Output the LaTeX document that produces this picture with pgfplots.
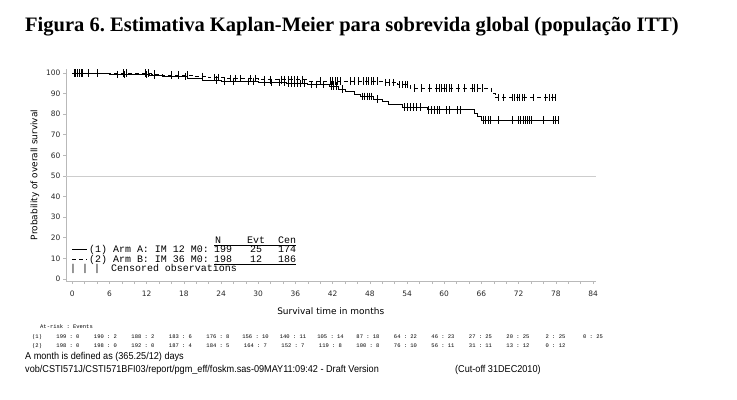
\documentclass[border=0pt]{standalone}
\usepackage{fontspec}
\usepackage{pgfplots}
\usepackage{graphicx}
\pgfplotsset{compat=1.18}
\setmainfont{Liberation Sans}
\newfontfamily\titlefont{Liberation Serif}
\newfontfamily\axisfont{DejaVu Sans}
\newfontfamily\legfont{Liberation Mono}
\definecolor{axgray}{RGB}{185,185,185}
\definecolor{refgray}{RGB}{205,205,205}
\frenchspacing
\begin{document}
\begin{tikzpicture}[x=1bp,y=1bp]
\useasboundingbox (0,0) rectangle (737,-399);
\node[anchor=base west, inner sep=0, font=\titlefont\bfseries\fontsize{20.6}{24}\selectfont] at (25,-31) {Figura 6. Estimativa Kaplan-Meier para sobrevida global (população ITT)};

\begin{axis}[
  at={(66bp,-281bp)}, anchor=south west, scale only axis,
  width=529.5bp, height=212.2bp,
  xmin=-1, xmax=84.4, ymin=-1, ymax=102,
  axis x line*=bottom, axis y line*=left,
  axis line style={axgray, line width=0.8pt, -},
  xtick={0,6,12,18,24,30,36,42,48,54,60,66,72,78,84},
  xticklabels={0,6,12,18,24,30,36,42,48,54,60,66,72,78,84},
  minor xtick={2,4,8,10,14,16,20,22,26,28,32,34,38,40,44,46,50,52,56,58,62,64,68,70,74,76,80,82},
  ytick={0,10,20,30,40,50,60,70,80,90,100},
  yticklabels={0,10,20,30,40,50,60,70,80,90,100},
  tick align=outside, major tick length=3bp, minor tick length=3bp,
  tick style={axgray, line width=0.6pt},
  tick label style={font=\axisfont\fontsize{7.5}{9}\selectfont, black!85},
  yticklabel style={xshift=1bp},
  xticklabel style={yshift=-3bp, anchor=north, text height=6bp, text depth=0pt},
  xlabel={Survival time in months},
  ylabel={Probability of overall survival},
  label style={font=\axisfont\fontsize{9}{11}\selectfont},
  xlabel style={at={(rel axis cs:0.5,-0.1414)}, anchor=center},
  ylabel style={at={(rel axis cs:-0.0585,0.5)}, anchor=center},
  clip=false,
]
\addplot[refgray, line width=0.8pt, forget plot] coordinates {(-1,50) (84.4,50)};
% Arm A (solid)
\addplot[black, line width=0.7pt, const plot mark left] coordinates {
(0,100)(6,99.2)(12.5,98.7)(14.5,98.2)(18.5,97.4)(21,96.6)(24,95.9)(30,95.4)(34.5,94.9)(38,94.3)(41.5,93.6)(43,92.2)(44,91.1)(45.5,89.8)(46.5,88.6)(48.5,87.3)(50,86.0)(51,84.9)(53.3,83.4)(57.2,82.1)(64.8,80.6)(65.4,79.0)(66,77.2)(78.4,77.2)};
% Arm B (dashed)
\addplot[black, line width=0.7pt, dash pattern=on 4bp off 3bp, const plot mark left] coordinates {
(0,100)(12.8,99.4)(14.5,98.9)(19.5,98.3)(22,97.7)(25,97.2)(30,96.7)(38,96.0)(50,95.3)(52.5,94.3)(54.5,92.6)(67.6,90.3)(68.2,88.0)(78.2,88.0)};
% censored A
\addplot[only marks, mark=|, mark size=3.8bp, mark options={line width=0.9pt, black}] coordinates {
(0.3,100)(0.6,100)(0.9,100)(1.2,100)(1.5,100)(2.6,100)(4.0,100)
(7.3,99.2)(8.5,99.2)(11.9,99.2)(13.2,98.7)(18.2,98.2)(23.2,96.6)
(24.6,95.9)(26,95.9)(28.4,95.9)(29.3,95.9)
(31,95.4)(32.2,95.4)(33.4,95.4)(34.2,95.4)
(34.8,94.9)(35.3,94.9)(35.8,94.9)(36.3,94.9)(36.8,94.9)(37.4,94.9)
(38.6,94.3)(39.4,94.3)(40.5,94.3)(41.8,93.6)(42.2,93.6)(42.6,93.6)(43.6,92.2)
(46.8,88.6)(47.2,88.6)(47.6,88.6)(48,88.6)(48.3,88.6)(49.3,87.3)
(53.6,83.4)(54,83.4)(54.5,83.4)(55,83.4)(55.5,83.4)(56.2,83.4)
(57.5,82.1)(58,82.1)(58.4,82.1)(58.9,82.1)(59.3,82.1)(60.4,82.1)(60.8,82.1)(62.2,82.1)(62.6,82.1)
(66.3,77.2)(66.7,77.2)(67.1,77.2)(67.5,77.2)(68.8,77.2)(71,77.2)
(72,77.2)(72.35,77.2)(72.7,77.2)(73.05,77.2)(73.4,77.2)(73.75,77.2)(74.1,77.2)
(76,77.2)(77.6,77.2)(78,77.2)(78.4,77.2)};
% censored B
\addplot[only marks, mark=|, mark size=3.8bp, mark options={line width=0.9pt, black}] coordinates {
(0.3,100)(0.6,100)(0.9,100)(1.2,100)(1.6,100)(8.2,100)(8.8,100)(11.8,100)(12.3,100)
(13.3,99.4)(16,98.9)(17.2,98.9)(18.6,98.9)(21,98.3)(23,97.7)(23.6,97.7)
(25.6,97.2)(26.3,97.2)(27.2,97.2)(28.8,97.2)(29.5,97.2)
(31,96.7)(32,96.7)(33.8,96.7)(34.3,96.7)(34.8,96.7)(35.3,96.7)(35.8,96.7)(36.3,96.7)(37.2,96.7)
(40,96.0)(41.6,96.0)(42,96.0)(42.4,96.0)(42.8,96.0)(43.2,96.0)(44.8,96.0)(45.6,96.0)(46.2,96.0)(47,96.0)(47.4,96.0)(47.8,96.0)(48.2,96.0)(48.6,96.0)(49.2,96.0)
(50.6,95.3)(51.2,95.3)(51.8,95.3)(52.8,94.3)(53.2,94.3)(53.7,94.3)(54.1,94.3)
(55.2,92.6)(56.3,92.6)(57.6,92.6)(58.7,92.6)(59.2,92.6)(59.6,92.6)(60,92.6)(60.4,92.6)(60.8,92.6)(61.2,92.6)(62.3,92.6)(63.3,92.6)(64.5,92.6)(64.9,92.6)(65.3,92.6)(66.2,92.6)
(68.8,88.0)(69.6,88.0)(71,88.0)(71.4,88.0)(71.8,88.0)(72.2,88.0)(72.6,88.0)(73,88.0)(74.4,88.0)(76.3,88.0)(76.9,88.0)(77.4,88.0)(78,88.0)};
\end{axis}

% legend
\begin{scope}[font=\legfont\fontsize{10}{12}\selectfont]
\draw[black, line width=0.7pt] (72,-249) -- (87,-249);
\draw[black, line width=0.7pt, dash pattern=on 4bp off 3bp] (72,-259) -- (87,-259);
\node[anchor=base west, inner sep=0] at (215,-243.3) {N};
\node[anchor=base west, inner sep=0] at (247,-243.3) {Evt};
\node[anchor=base west, inner sep=0] at (278,-243.3) {Cen};
\draw[black, line width=0.6pt] (214,-245.5) -- (296,-245.5);
\node[anchor=base west, inner sep=0] at (89,-252.3) {(1) Arm A: IM 12 M0:};
\node[anchor=base west, inner sep=0] at (89,-262.3) {(2) Arm B: IM 36 M0:};
\node[anchor=base west, inner sep=0] at (214,-252.3) {199};
\node[anchor=base west, inner sep=0] at (250,-252.3) {25};
\node[anchor=base west, inner sep=0] at (278,-252.3) {174};
\node[anchor=base west, inner sep=0] at (214,-262.3) {198};
\node[anchor=base west, inner sep=0] at (250,-262.3) {12};
\node[anchor=base west, inner sep=0] at (278,-262.3) {186};
\draw[black, line width=0.6pt] (214,-264.5) -- (296,-264.5);
\node[anchor=base west, inner sep=0] at (70,-271.3) {| | |};
\node[anchor=base west, inner sep=0] at (111,-271.3) {Censored observations};
\end{scope}

% at-risk table
\begin{scope}[font=\legfont\fontsize{5.5}{6}\selectfont]
\node[anchor=west, inner sep=0] at (40,-327) {At-risk : Events};
\node[anchor=west, inner sep=0] at (32,-337) {(1)};
\node[anchor=west, inner sep=0] at (32,-346) {(2)};
\foreach \v [count=\i from 0] in {199 : 0,190 : 2,188 : 2,183 : 6,176 : 8,156 : 10,140 : 11,105 : 14,87 : 18,64 : 22,46 : 23,27 : 25,20 : 25,2 : 25,0 : 25}
  \node[inner sep=0] at (68+37.5*\i,-337) {\v};
\foreach \v [count=\i from 0] in {198 : 0,198 : 0,192 : 0,187 : 4,184 : 5,164 : 7,152 : 7,119 : 8,100 : 8,76 : 10,56 : 11,31 : 11,13 : 12,0 : 12}
  \node[inner sep=0] at (68+37.5*\i,-346) {\v};
\end{scope}

% footnotes
\node[anchor=west, inner sep=0, font=\fontsize{10}{12}\selectfont] at (25,-357) {\scalebox{0.915}[1]{A month is defined as (365.25/12) days}};
\node[anchor=west, inner sep=0, font=\fontsize{10}{12}\selectfont] at (25,-370) {\scalebox{0.915}[1]{vob/CSTI571J/CSTI571BFI03/report/pgm\_eff/foskm.sas-09MAY11:09:42 - Draft Version}};
\node[anchor=west, inner sep=0, font=\fontsize{10}{12}\selectfont] at (455,-370) {\scalebox{0.915}[1]{(Cut-off 31DEC2010)}};
\end{tikzpicture}
\end{document}
